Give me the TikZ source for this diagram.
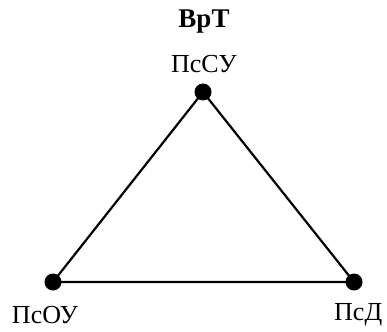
\documentclass[tikz,border=0pt]{standalone}
\usepackage{fontspec}
\setmainfont{Liberation Serif}
\begin{document}
\begin{tikzpicture}[x=1pt,y=-1pt,
  vertex/.style={circle,fill=black,inner sep=0pt,minimum size=17pt},
  lbl/.style={font=\fontsize{26}{28}\selectfont,inner sep=0pt},
  edge/.style={line width=2.2pt}]
\useasboundingbox (0,0) rectangle (387,331);
\node[vertex] (t) at (203,92) {};
\node[vertex] (l) at (53,282) {};
\node[vertex] (r) at (354,282) {};
\draw[edge] (t.center) -- (l.center) -- (r.center) -- cycle;
\node[lbl,font=\fontsize{27}{29}\selectfont\bfseries] (title) at (204,22) {ВрТ};
\node[lbl] (tl) at (204,64) {ПсСУ};
\node[lbl] (ll) at (45,315) {ПсОУ};
\node[lbl,anchor=west] (rl) at (334,315) {ПсД};
\end{tikzpicture}
\end{document}
